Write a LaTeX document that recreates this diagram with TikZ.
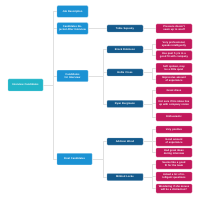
\documentclass[tikz,border=0pt]{standalone}
\usepackage{fontspec}
\setmainfont{Liberation Sans}
\definecolor{rootc}{HTML}{22B5C8}
\definecolor{lonec}{HTML}{1B92D4}
\definecolor{ltwoc}{HTML}{145A8C}
\definecolor{pinkc}{HTML}{C2185B}
\definecolor{linec}{HTML}{E0E0E0}
\tikzset{
  box/.style={rectangle, rounded corners=0.8pt, text=white, align=center, inner sep=0.5pt, font=\fontsize{2.6}{3.1}\selectfont\bfseries},
  rootbox/.style={box, fill=rootc, draw=rootc!55!white, line width=0.4pt, minimum width=35pt, minimum height=12pt, text width=32pt},
  lonebox/.style={box, fill=lonec, draw=lonec!55!white, line width=0.4pt, minimum width=31pt, minimum height=11.5pt, text width=29pt},
  ltwobox/.style={box, fill=ltwoc, draw=ltwoc!55!white, line width=0.3pt, minimum width=36pt, minimum height=7pt, text width=33pt},
  pinkbox/.style={box, fill=pinkc, draw=pinkc!55!white, line width=0.3pt, minimum width=36pt, text width=31pt},
  conn/.style={draw=linec, line width=0.45pt}
}
\begin{document}
\begin{tikzpicture}[x=1pt,y=-1pt]
\useasboundingbox (0,0) rectangle (200,200);
\coordinate (busa) at (53,0);
\coordinate (busb) at (103,0);
\coordinate (busc) at (152,0);
% root
\node[rootbox] (root) at (25.5,85) {Interview Candidates};
% level 1
\node[lonebox] (job) at (72.5,11.5) {Job Description};
\node[lonebox] (rej) at (72.5,28.5) {Candidates Rejected After Interview};
\node[lonebox] (cfi) at (72.5,76) {Candidates for Interview};
\node[lonebox, minimum width=35pt, text width=33pt] (fin) at (74.5,159) {Final Candidates};
% level 2
\node[ltwobox] (tob) at (125,28.5) {Tobie Sepesky};
\node[ltwobox] (bro) at (125,49.5) {Brock Robinson};
\node[ltwobox] (hol) at (125,72.5) {Hollie Cross};
\node[ltwobox] (rya) at (125,104) {Ryan Bergmann};
\node[ltwobox] (add) at (125,141.5) {Addison Wood};
\node[ltwobox] (mil) at (125,177) {Mildred Locke};
% level 3
\node[pinkbox, minimum height=9pt] (p1) at (174,28.5) {Pressure doesn't seem up to snuff};
\node[pinkbox, minimum height=10pt] (p2) at (174,44) {Very professional, speaks intelligently};
\node[pinkbox, minimum height=9.5pt] (p3) at (174,55.5) {Has past 5 yrs in a good fit with company};
\node[pinkbox, minimum height=9.5pt] (p4) at (174,68) {Soft spoken, may be a little quiet};
\node[pinkbox, minimum height=9pt] (p5) at (174,79.5) {Impressive amount of experience};
\node[pinkbox, minimum height=7pt] (p6) at (174,90.5) {Great dress};
\node[pinkbox, minimum height=12pt] (p7) at (174,103) {Not sure if his ideas line up with company vision};
\node[pinkbox, minimum height=8pt] (p8) at (174,117) {Enthusiastic};
\node[pinkbox, minimum height=7pt] (p9) at (174,129.5) {Very positive};
\node[pinkbox, minimum height=9pt] (p10) at (174,141.5) {Good amount of experience};
\node[pinkbox, minimum height=9pt] (p11) at (174,152.5) {Had great ideas during interview};
\node[pinkbox, minimum height=9pt] (p12) at (174,164.5) {Seems like a good fit for the team};
\node[pinkbox, minimum height=9pt] (p13) at (174,176.5) {Asked a lot of intelligent questions};
\node[pinkbox, minimum height=9pt] (p14) at (174,188.5) {Wondering if she moves will be a distraction?};
% connectors root -> level 1
\foreach \c in {job,rej,cfi,fin}
  \draw[conn] (root.east) -- (root.east -| busa) |- (\c.west);
% level 1 -> level 2
\draw[conn] (rej.east) -- (tob.west);
\foreach \c in {bro,hol,rya}
  \draw[conn] (cfi.east) -- (cfi.east -| busb) |- (\c.west);
\foreach \c in {add,mil}
  \draw[conn] (fin.east) -- (fin.east -| busb) |- (\c.west);
% level 2 -> level 3
\draw[conn] (tob.east) -- (p1.west);
\foreach \p/\c in {bro/p2,bro/p3,hol/p4,hol/p5,rya/p6,rya/p7,rya/p8,add/p9,add/p10,add/p11,mil/p12,mil/p13,mil/p14}
  \draw[conn] (\p.east) -- (\p.east -| busc) |- (\c.west);
\end{tikzpicture}
\end{document}
